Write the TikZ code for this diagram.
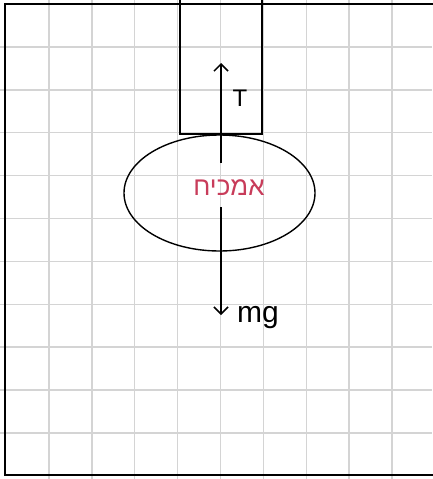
\documentclass[tikz,border=0pt]{standalone}
\usepackage{fontspec}
\setmainfont{Liberation Sans}
\newfontfamily\hebfont[Script=Hebrew]{Liberation Sans}
\TeXXeTstate=1
\usetikzlibrary{arrows.meta,shapes.geometric}
\definecolor{gridgray}{RGB}{212,212,212}
\definecolor{labelred}{RGB}{200,60,90}
\begin{document}
\begin{tikzpicture}[x=1pt,y=-1pt,
  gridline/.style={gridgray,line width=1.5pt},
  frameline/.style={black,line width=2pt},
  outline/.style={draw=black,line width=1.4pt},
  force/.style={black,line width=1.6pt,-{Straight Barb[length=7pt,width=14pt,line width=1.5pt]}},
  forcelabel/.style={black,inner sep=0pt}]
\useasboundingbox (0,0) rectangle (432,479);
\fill[white] (0,0) rectangle (432,479);
% grid
\foreach \i in {0,...,9}{
  \draw[gridline] ({48.9+42.9*\i},0) -- ({48.9+42.9*\i},479);
  \draw[gridline] (0,{46.9+42.9*\i}) -- (432,{46.9+42.9*\i});
}
% frame
\draw[frameline] (433,4) -- (5,4) -- (5,475) -- (433,475);
% rope block
\node (rope) [outline, rectangle, minimum width=82pt, minimum height=138pt, inner sep=0pt] at (221,65) {};
% body
\node (body) [outline, ellipse, minimum width=191pt, minimum height=116pt, inner sep=0pt] at (219.5,193) {};
% label of body
\node (name) [labelred, inner sep=0pt, font=\hebfont\fontsize{26}{26}\selectfont] at (229,188) {\beginR אמכיח\endR};
% forces
\coordinate (tstart) at (221,163);
\coordinate (ttip) at (221,63);
\coordinate (mgstart) at (221,207);
\coordinate (mgtip) at (221,315);
\draw[force] (tstart) -- (ttip);
\draw[force] (mgstart) -- (mgtip);
\node (tlabel) [forcelabel, font=\fontsize{24}{24}\selectfont] at (240,98) {T};
\node (mglabel) [forcelabel, font=\fontsize{30}{30}\selectfont] at (258,318) {mg};
\end{tikzpicture}
\end{document}
